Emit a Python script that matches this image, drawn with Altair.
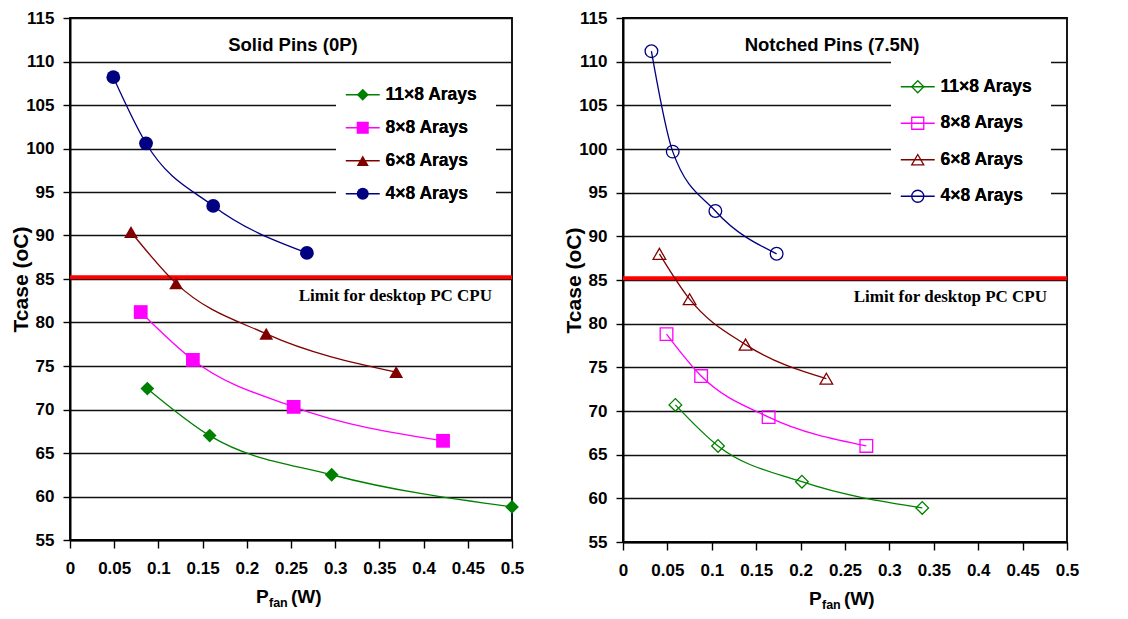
import altair as alt
import pandas as pd

series = ["11×8 Arays", "8×8 Arays", "6×8 Arays", "4×8 Arays"]
colors = ["#008000", "#FF00FF", "#800000", "#000080"]
shapes = ["diamond", "square", "triangle-up", "circle"]

solid_x_11 = [0.0875, 0.158, 0.296, 0.5]
solid_y_11 = [72.4, 67.0, 62.5, 58.8]
solid_x_8 = [0.080, 0.139, 0.253, 0.422]
solid_y_8 = [81.2, 75.7, 70.3, 66.4]
solid_x_6 = [0.069, 0.120, 0.222, 0.369]
solid_y_6 = [90.4, 84.5, 78.7, 74.3]
solid_x_4 = [0.049, 0.086, 0.162, 0.268]
solid_y_4 = [108.2, 100.6, 93.4, 88.0]

notched_x_11 = [0.059, 0.107, 0.2015, 0.337]
notched_y_11 = [70.7, 66.0, 61.9, 58.9]
notched_x_8 = [0.049, 0.088, 0.164, 0.274]
notched_y_8 = [78.8, 74.0, 69.3, 66.0]
notched_x_6 = [0.041, 0.075, 0.138, 0.229]
notched_y_6 = [88.0, 82.8, 77.6, 73.7]
notched_x_4 = [0.032, 0.056, 0.104, 0.173]
notched_y_4 = [111.2, 99.7, 92.9, 88.0]

x_ticks = [0, 0.05, 0.1, 0.15, 0.2, 0.25, 0.3, 0.35, 0.4, 0.45, 0.5]
y_ticks = [55, 60, 65, 70, 75, 80, 85, 90, 95, 100, 105, 110, 115]
limit_value = 85.2
limit_label = "Limit for desktop PC CPU"
titles = ["Solid Pins (0P)", "Notched Pins (7.5N)"]
y_title = "Tcase (oC)"

FONT = "Liberation Sans"


def build_df(xs_list, ys_list):
    rows = []
    for s, xs, ys in zip(series, xs_list, ys_list):
        for x, y in zip(xs, ys):
            rows.append({"series": s, "x": x, "y": y})
    return pd.DataFrame(rows)


def panel(df, title, filled, w, h, leg_x, leg_y, row_pad, title_x, msize):
    xs = alt.Scale(domain=[0, 0.5], nice=False, zero=False)
    ys = alt.Scale(domain=[55, 115], nice=False, zero=False)
    xaxis = alt.Axis(values=x_ticks, format="~g", grid=False, tickSize=8,
                     labelPadding=12, title=None, labelFlush=False)
    yaxis = alt.Axis(values=y_ticks, grid=True, tickSize=7, labelPadding=9,
                     title=y_title, titleX=-49, titleAngle=-90,
                     titleBaseline="middle", titleAlign="center")
    X = alt.X("x:Q", scale=xs, axis=xaxis)
    Y = alt.Y("y:Q", scale=ys, axis=yaxis)

    common_leg = dict(orient="none", legendX=leg_x, legendY=leg_y, title=None,
                      direction="vertical", symbolSize=145, symbolStrokeWidth=1.3,
                      labelFont=FONT, labelFontSize=17.5, labelFontWeight="bold",
                      labelColor="black", rowPadding=row_pad, padding=18,
                      labelOffset=14)
    line_leg = alt.Legend(symbolType="M-2.82,0H2.82", fillColor="white",
                          zindex=1, **common_leg)
    pt_leg = alt.Legend(zindex=2, **common_leg)

    base = alt.Chart(df)
    # line layer: data-driven domain (different from the points' explicit domain)
    # so that its legend (line symbols) is kept separate from the marker legend
    lines = base.transform_calculate(lseries="datum.series").mark_line(
        interpolate="monotone", strokeWidth=1.3).encode(
        x=X, y=Y,
        stroke=alt.Stroke("lseries:N", sort=series,
                          scale=alt.Scale(range=colors),
                          legend=line_leg),
    )
    pts = base.mark_point(filled=filled, size=msize, strokeWidth=1.3, opacity=1).encode(
        x=X, y=Y,
        color=alt.Color("series:N", sort=series,
                        scale=alt.Scale(domain=series, range=colors),
                        legend=pt_leg),
        shape=alt.Shape("series:N", sort=series,
                        scale=alt.Scale(domain=series, range=shapes),
                        legend=pt_leg),
    )
    limit = alt.Chart(pd.DataFrame({"y": [limit_value]})).mark_rule(
        color="#FF0000", strokeWidth=4).encode(y=alt.Y("y:Q", scale=ys))
    limit_txt = alt.Chart(pd.DataFrame({"x": [0.5], "y": [83.0], "t": [limit_label]})).mark_text(
        align="right", baseline="middle", dx=-20, font="Liberation Serif",
        fontWeight="bold", fontSize=17, color="black").encode(
        x=alt.X("x:Q", scale=xs), y=alt.Y("y:Q", scale=ys), text="t:N")
    ttl = alt.Chart(pd.DataFrame({"t": [title]})).mark_text(
        align="center", baseline="middle", font=FONT, fontWeight="bold",
        fontSize=18.5, color="black").encode(
        x=alt.value(title_x), y=alt.value(27), text="t:N")
    xt1 = alt.Chart(pd.DataFrame({"t": ["P"]})).mark_text(
        align="left", baseline="middle", font=FONT, fontWeight="bold",
        fontSize=19, color="black").encode(x=alt.value(186), y=alt.value(h + 57), text="t:N")
    xt2 = alt.Chart(pd.DataFrame({"t": ["fan"]})).mark_text(
        align="left", baseline="middle", font=FONT, fontWeight="bold",
        fontSize=12.5, color="black").encode(x=alt.value(199), y=alt.value(h + 63), text="t:N")
    xt3 = alt.Chart(pd.DataFrame({"t": ["(W)"]})).mark_text(
        align="left", baseline="middle", font=FONT, fontWeight="bold",
        fontSize=19, color="black").encode(x=alt.value(221), y=alt.value(h + 57), text="t:N")
    return alt.layer(limit, lines, pts, limit_txt, ttl, xt1, xt2, xt3).properties(
        width=w, height=h)


left = panel(build_df([solid_x_11, solid_x_8, solid_x_6, solid_x_4],
                      [solid_y_11, solid_y_8, solid_y_6, solid_y_4]),
             titles[0], True, 442, 522, 266, 50, 14, 223, 190)
right = panel(build_df([notched_x_11, notched_x_8, notched_x_6, notched_x_4],
                       [notched_y_11, notched_y_8, notched_y_6, notched_y_4]),
              titles[1], False, 444, 524, 268, 42, 17.5, 209, 160)

chart = alt.hconcat(left, right, spacing=37).resolve_scale(
    color="independent", shape="independent", stroke="independent"
).properties(
    padding={"left": 1, "top": 0, "right": 2, "bottom": 2},
    background="white",
).configure_view(
    stroke="black", strokeWidth=1.8
).configure_axis(
    domainColor="black", domainWidth=2, tickColor="black", tickWidth=1.4,
    gridColor="#111111", gridWidth=1.5, gridOpacity=1,
    labelFont=FONT, labelFontSize=17, labelFontWeight="bold", labelColor="black",
    titleFont=FONT, titleFontSize=21, titleFontWeight="bold", titleColor="black",
)

chart.save("out.html", embed_options={"renderer": "svg", "actions": False})
